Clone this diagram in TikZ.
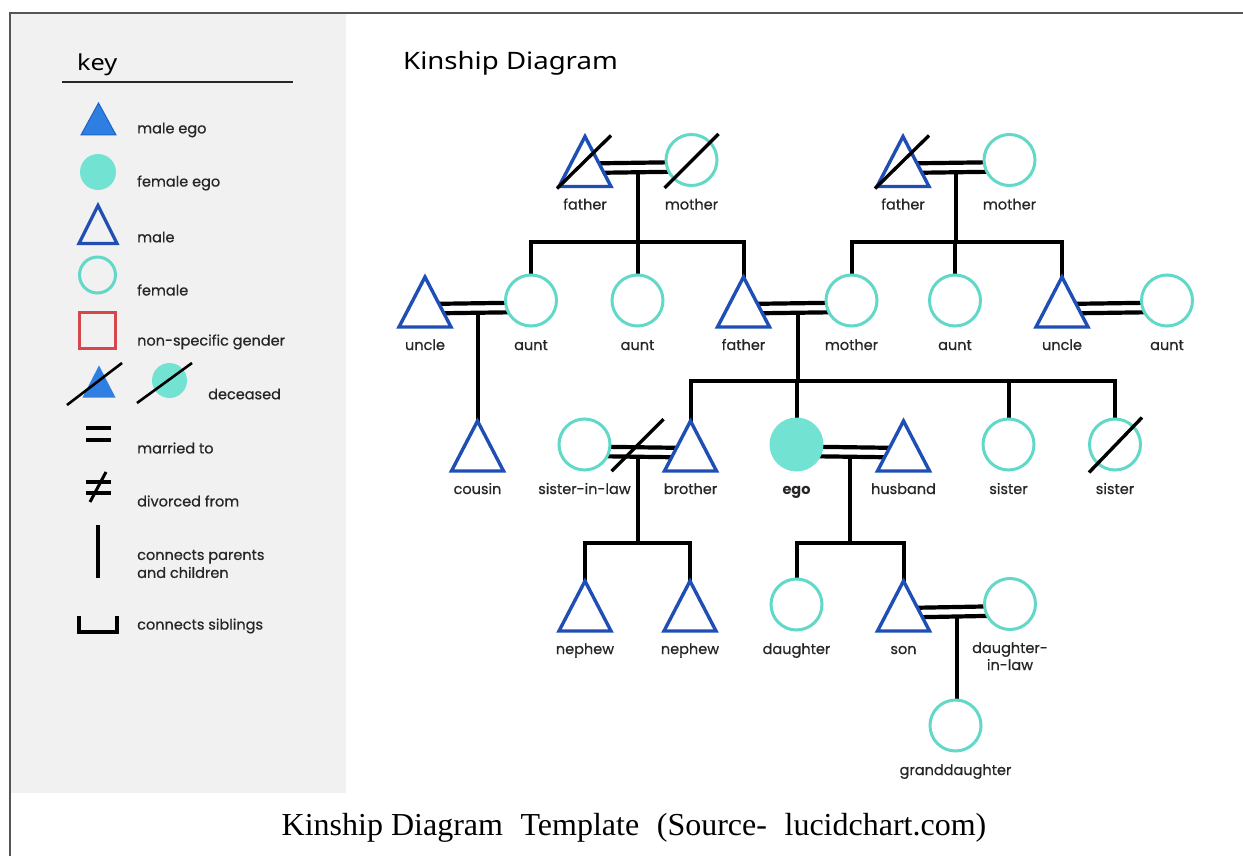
\documentclass[tikz,border=0pt]{standalone}
\usepackage{fontspec}
\setmainfont{Poppins}
\newfontfamily\lblfont{Poppins}[FakeBold=0.6]
\newfontfamily\headfont[FakeStretch=1.15]{Noto Sans}
\newfontfamily\capfont{Liberation Serif}
\usetikzlibrary{calc}

\definecolor{maleblue}{HTML}{1F4FB5}
\definecolor{egoblue}{HTML}{2F7FE3}
\definecolor{egoblueedge}{HTML}{1E62C8}
\definecolor{turq}{HTML}{62D8C8}
\definecolor{turqfill}{HTML}{72E2D3}
\definecolor{nsred}{HTML}{D6474B}
\definecolor{panelgrey}{HTML}{F1F1F1}
\definecolor{framegrey}{HTML}{555555}
\definecolor{labelgrey}{HTML}{262626}

\pgfdeclarelayer{background}
\pgfsetlayers{background,main}

% person symbols: a named box carrying the shape, plus its caption below
\newcommand\Male[4]{%
  \node[tribox] (#1) at (#2,#3) {};
  \draw[malestroke] (#1.south west) -- (#1.north) -- (#1.south east) -- cycle;
  \node[lbl] (#1-t) at ($(#1.center)+(0,48)$) {#4};}
\newcommand\Female[4]{%
  \node[femnode] (#1) at (#2,#3) {};
  \node[lbl] (#1-t) at ($(#1.center)+(0,49.5)$) {#4};}
% marriage: two parallel bars between the partners
\newcommand\Marry[2]{%
  \draw[marr] ($(#1.center)+(0,2)$) -- ($(#2.center)+(0,2)$);
  \draw[marr] ($(#1.center)+(0,11.5)$) -- ($(#2.center)+(0,11.5)$);}

\begin{document}
\begin{tikzpicture}[x=1pt,y=-1pt,
  tribox/.style={rectangle,minimum width=52pt,minimum height=50pt,inner sep=0pt,outer sep=0pt},
  malestroke/.style={draw=maleblue,line width=3.4pt,fill=white,line join=miter},
  femnode/.style={circle,draw=turq,line width=3pt,fill=white,minimum size=51pt,inner sep=0pt,outer sep=0pt},
  lbl/.style={anchor=base,text=labelgrey,font=\lblfont\fontsize{14.5}{17}\selectfont,inner sep=0pt,align=center},
  keytxt/.style={anchor=west,text=labelgrey,font=\lblfont\fontsize{14.5}{18}\selectfont,inner sep=0pt,align=left},
  marr/.style={line width=4.2pt,black},
  conn/.style={line width=4pt,black,line join=miter},
  slash/.style={line width=3.4pt,black,line cap=butt},
  keytri/.style={rectangle,minimum width=#1,minimum height=#1,inner sep=0pt,outer sep=0pt},
]
\useasboundingbox (0,0) rectangle (1243,856);

\begin{pgfonlayer}{background}
  \fill[white] (0,0) rectangle (1243,856);
  \fill[panelgrey] (10,13) rectangle (346,793);
  \draw[framegrey,line width=1.5pt] (10,856) -- (10,13) -- (1243,13);
\end{pgfonlayer}

% ---------------- key panel ----------------
\node[anchor=west,inner sep=0pt,font=\headfont\fontsize{22}{24}\selectfont] (keyhead) at (77,65) {key};
\draw[line width=2pt,black!85] (62,82) -- (293,82);

\node[keytri=32pt,minimum width=35pt] (kmego) at (98.5,119) {};
\fill[egoblue,draw=egoblueedge,line width=1pt] (kmego.south west) -- (kmego.north) -- (kmego.south east) -- cycle;
\node[keytxt] (kmego-t) at (137,130) {male ego};

\node[circle,fill=turqfill,minimum size=36pt,inner sep=0pt] (kfego) at (98,172) {};
\node[keytxt] (kfego-t) at (137,183) {female ego};

\node[keytri=38pt] (kmale) at (98,224.5) {};
\draw[draw=maleblue,line width=3.2pt,line join=miter] (kmale.south west) -- (kmale.north) -- (kmale.south east) -- cycle;
\node[keytxt] (kmale-t) at (137,237) {male};

\node[circle,draw=turq,line width=3pt,minimum size=36pt,inner sep=0pt] (kfem) at (97.5,275) {};
\node[keytxt] (kfem-t) at (137,290) {female};

\node[rectangle,draw=nsred,line width=2.6pt,minimum size=36pt,inner sep=0pt] (kns) at (97.5,330.5) {};
\node[keytxt] (kns-t) at (137,342) {non-specific gender};

\node[keytri=32pt,minimum width=33pt] (kdm) at (99,381.5) {};
\fill[egoblue] (kdm.south west) -- (kdm.north) -- (kdm.south east) -- cycle;
\draw[slash,line width=2.6pt] (67,405) -- (122,363);
\node[circle,fill=turqfill,minimum size=35pt,inner sep=0pt] (kdf) at (169.5,380.5) {};
\draw[slash,line width=2.6pt] (137,403) -- (192,363);
\node[keytxt] (kdec-t) at (208,394) {deceased};

\draw[line width=4pt] (86,428) -- (111,428) (86,440) -- (111,440);
\node[keytxt] (kmar-t) at (137,448) {married to};

\draw[line width=3.6pt] (86,482) -- (111,482) (86,493) -- (111,493);
\draw[line width=3pt] (90,502) -- (106,472);
\node[keytxt] (kdiv-t) at (137,501) {divorced from};

\draw[line width=4pt] (97.7,525) -- (97.7,578);
\node[keytxt] (kpc-t) at (137,564) {connects parents\\and children};

\draw[line width=4pt,line join=miter] (79,616) -- (79,632) -- (117,632) -- (117,616);
\node[keytxt] (ksib-t) at (137,626) {connects siblings};

% ---------------- diagram ----------------
\node[anchor=west,inner sep=0pt,font=\headfont\fontsize{24}{28}\selectfont] (title) at (403,63) {Kinship Diagram};

% grandparents
\Male{pgf}{585}{161.5}{father}
\Female{pgm}{691.5}{160}{mother}
\Male{mgf}{903}{161.5}{father}
\Female{mgm}{1009.5}{160}{mother}

% parents' generation
\Male{unA}{425}{302}{uncle}
\Female{auA}{531}{300.5}{aunt}
\Female{auB}{637.5}{300.5}{aunt}
\Male{fa}{743.5}{302}{father}
\Female{mo}{851.5}{300.5}{mother}
\Female{auC}{955}{300.5}{aunt}
\Male{unB}{1062}{302}{uncle}
\Female{auD}{1167}{300.5}{aunt}

% ego's generation
\Male{cou}{477.5}{446}{cousin}
\Female{sil}{584.5}{444.5}{sister-in-law}
\Male{bro}{690.5}{446}{brother}
\node[circle,fill=turqfill,minimum size=54pt,inner sep=0pt,outer sep=0pt] (ego) at (796.5,444.5) {};
\node[lbl,font=\fontsize{14.5}{17}\bfseries\selectfont] (ego-t) at ($(ego.center)+(0,49.5)$) {ego};
\Male{hus}{903.5}{446}{husband}
\Female{sisA}{1008.5}{444.5}{sister}
\Female{sisB}{1115}{444.5}{sister}

% children
\Male{nepA}{585}{606}{nephew}
\Male{nepB}{690}{606}{nephew}
\Female{dau}{796.5}{604.5}{daughter}
\Male{son}{903.5}{606}{son}
\node[femnode] (dil) at (1010,604) {};
\node[lbl] (dil-t) at ($(dil.center)+(0,66)$) {daughter-\\in-law};
\Female{gd}{955.5}{725.5}{granddaughter}

% deceased and divorce strokes
\draw[slash] ($(pgf.center)+(-28,27)$) -- ($(pgf.center)+(26,-26)$);
\draw[slash] ($(pgm.center)+(-27,28)$) -- ($(pgm.center)+(27,-26)$);
\draw[slash] ($(mgf.center)+(-28,27)$) -- ($(mgf.center)+(26,-26)$);
\draw[slash] ($(sisB.center)+(-26,28)$) -- ($(sisB.center)+(27,-27)$);
\coordinate (divx) at ($(sil.center)!0.5!(bro.center)$);
\draw[slash] ($(divx)+(-26,26)$) -- ($(divx)+(26,-26)$);

% connectors, kept behind the symbols
\begin{pgfonlayer}{background}
  \Marry{pgf}{pgm}
  \Marry{mgf}{mgm}
  \Marry{unA}{auA}
  \Marry{fa}{mo}
  \Marry{unB}{auD}
  \Marry{sil}{bro}
  \Marry{ego}{hus}
  \Marry{son}{dil}

  % descent lines and sibling bars
  \coordinate (cpA) at ($(pgf.center)!0.5!(pgm.center)$);
  \coordinate (barA) at (0,241.5);
  \draw[conn] ($(cpA)+(0,11.5)$) -- (cpA |- barA);
  \draw[conn] (auA.center) -- (auA.center |- barA) -- (fa.center |- barA) -- (fa.center);
  \draw[conn] (auB.center) -- (auB.center |- barA);

  \coordinate (cpB) at ($(mgf.center)!0.5!(mgm.center)$);
  \draw[conn] ($(cpB)+(0,11.5)$) -- (cpB |- barA);
  \draw[conn] (mo.center) -- (mo.center |- barA) -- (unB.center |- barA) -- (unB.center);
  \draw[conn] (auC.center) -- (auC.center |- barA);

  \coordinate (cpC) at ($(unA.center)!0.5!(auA.center)$);
  \draw[conn] ($(cpC)+(0,11.5)$) -- (cpC |- cou.center);

  \coordinate (cpD) at ($(fa.center)!0.5!(mo.center)$);
  \coordinate (barB) at (0,381);
  \draw[conn] ($(cpD)+(0,11.5)$) -- (cpD |- barB);
  \draw[conn] (bro.center) -- (bro.center |- barB) -- (sisB.center |- barB) -- (sisB.center);
  \draw[conn] (ego.center) -- (ego.center |- barB);
  \draw[conn] (sisA.center) -- (sisA.center |- barB);

  \coordinate (cpE) at ($(sil.center)!0.5!(bro.center)$);
  \coordinate (barC) at (0,542.5);
  \draw[conn] ($(cpE)+(0,11.5)$) -- (cpE |- barC);
  \draw[conn] (nepA.center) -- (nepA.center |- barC) -- (nepB.center |- barC) -- (nepB.center);

  \coordinate (cpF) at ($(ego.center)!0.5!(hus.center)$);
  \draw[conn] ($(cpF)+(0,11.5)$) -- (cpF |- barC);
  \draw[conn] (dau.center) -- (dau.center |- barC) -- (son.center |- barC) -- (son.center);

  \coordinate (cpG) at ($(son.center)!0.5!(dil.center)$);
  \draw[conn] ($(cpG)+(0,11.5)$) -- (cpG |- gd.center);
\end{pgfonlayer}

% caption
\node[inner sep=0pt,font=\capfont\fontsize{32}{36}\selectfont] (cap) at (634,828)
  {Kinship Diagram\hspace{0.3em} Template\hspace{0.3em} (Source-\hspace{0.3em} lucidchart.com)};
\end{tikzpicture}
\end{document}
